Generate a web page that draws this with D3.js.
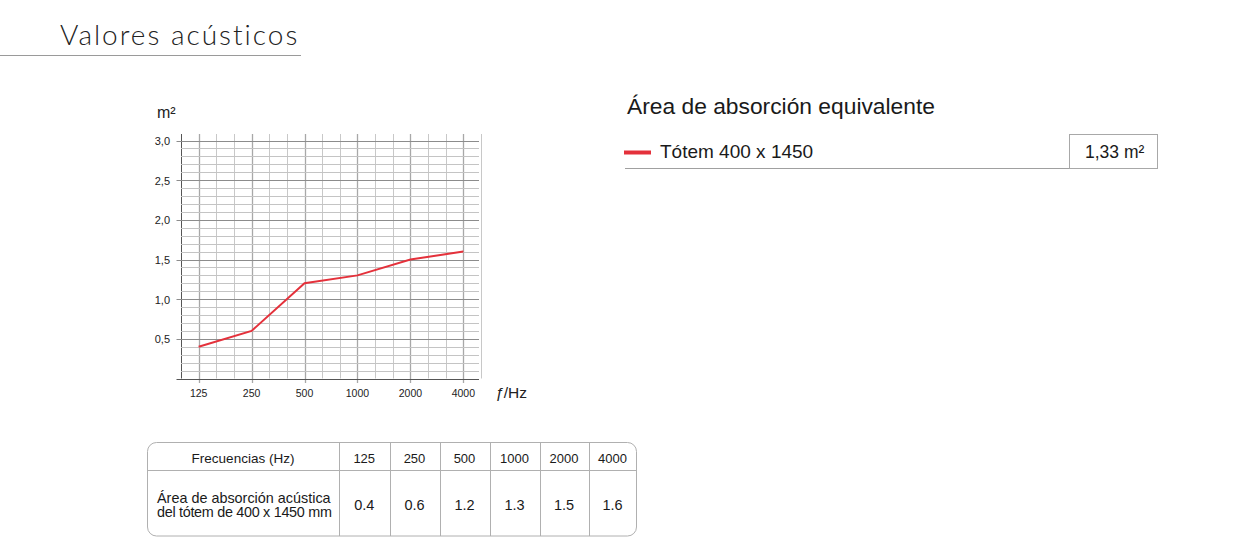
<!DOCTYPE html>
<html><head><meta charset="utf-8">
<script src="https://cdn.jsdelivr.net/npm/d3@7"></script>
<style>
html,body{margin:0;padding:0;background:#fff;}
svg{display:block;}
text{font-family:"Liberation Sans",Arial,Helvetica,sans-serif;fill:#1a1a1a;}
</style></head>
<body>
<svg id="c" width="1240" height="553"></svg>
<script>
// ---- data ----
const frequencies = [125, 250, 500, 1000, 2000, 4000];
const freqLabels = ["125", "250", "500", "1000", "2000", "4000"];
const absorption = [0.4, 0.6, 1.2, 1.3, 1.5, 1.6];
const absorptionLabels = ["0.4", "0.6", "1.2", "1.3", "1.5", "1.6"];
const yTicks = [0.5, 1.0, 1.5, 2.0, 2.5, 3.0];
const yTickLabels = ["0,5", "1,0", "1,5", "2,0", "2,5", "3,0"];
const seriesName = "Tótem 400 x 1450";
const equivalentArea = "1,33 m²";
const pageTitle = "Valores acústicos";
const panelTitle = "Área de absorción equivalente";
const tableHeader = "Frecuencias (Hz)";
const tableRowLabel = ["Área de absorción acústica", "del tótem de 400 x 1450 mm"];

const svg = d3.select("#c");
const red = "#e4313b";

// ---- page title ----
svg.append("text").attr("x", 60).attr("y", 45)
  .style("font-family", "Lato, 'Open Sans', sans-serif").style("font-weight", 300)
  .style("font-size", "28px").style("letter-spacing", "2px").style("fill", "#222").text(pageTitle);
svg.append("line").attr("x1", 0).attr("x2", 301).attr("y1", 55.5).attr("y2", 55.5)
  .attr("stroke", "#9a9a9a").attr("stroke-width", 1);

// ---- chart scales ----
const third = Math.pow(2, 1/3);
const x = d3.scaleLog().base(2).domain([125 / third, 4000 * third]).range([181, 481]);
const y = d3.scaleLinear().domain([0, 3]).range([378.5, 140.5]);
const gridTop = 134;

const g = svg.append("g");
// vertical third-octave grid lines
const bandLines = d3.range(0, 18).map(k => 125 / third * Math.pow(third, k));
bandLines.forEach((f, i) => {
  const isOct = (i % 3) === 1;
  const isEdge = i === 0;
  g.append("line")
    .attr("x1", Math.round(x(f)) + 0.5).attr("x2", Math.round(x(f)) + 0.5)
    .attr("y1", gridTop).attr("y2", isOct ? 383 : y(0))
    .attr("stroke", isEdge ? "#555" : (isOct ? "#a8a8a8" : "#c8c8c8"))
    .attr("stroke-width", isOct ? 1.3 : 1);
});
// horizontal grid lines every 0.1
d3.range(1, 31).map(k => k / 10).forEach(v => {
  const major = Math.abs(v * 2 - Math.round(v * 2)) < 1e-6;
  g.append("line")
    .attr("x1", major ? 176.5 : 181).attr("x2", 479)
    .attr("y1", Math.round(y(v)) + 0.5).attr("y2", Math.round(y(v)) + 0.5)
    .attr("stroke", major ? "#8c8c8c" : "#c4c4c4").attr("stroke-width", 1);
});
// x axis line
g.append("line").attr("x1", 176.5).attr("x2", 479)
  .attr("y1", Math.round(y(0)) + 0.5).attr("y2", Math.round(y(0)) + 0.5)
  .attr("stroke", "#555").attr("stroke-width", 1);

// y tick labels
g.selectAll(".yl").data(yTicks).enter().append("text")
  .attr("x", 170).attr("y", d => y(d) + 4.5)
  .attr("text-anchor", "end").style("font-size", "11px").style("fill", "#222")
  .text((d, i) => yTickLabels[i]);
// x tick labels
g.selectAll(".xl").data(frequencies).enter().append("text")
  .attr("x", d => x(d)).attr("y", 396.5)
  .attr("text-anchor", "middle").style("font-size", "10.5px").style("fill", "#222")
  .text((d, i) => freqLabels[i]);
// axis units
const un = g.append("text").attr("x", 495).attr("y", 398).style("font-size", "15.5px").style("fill", "#222");
un.append("tspan").style("font-style", "italic").text("ƒ");
un.append("tspan").text("/Hz");
const mu = g.append("text").attr("x", 157).attr("y", 117.5).style("font-size", "16px").style("fill", "#222");
mu.text("m²");

// data line
const line = d3.line().x(d => x(d[0])).y(d => y(d[1]));
g.append("path").datum(frequencies.map((f, i) => [f, absorption[i]]))
  .attr("d", line).attr("fill", "none").attr("stroke", red).attr("stroke-width", 2);

// ---- right panel ----
svg.append("text").attr("x", 627).attr("y", 114).style("font-size", "22.8px").style("fill", "#1a1a1a").text(panelTitle);
svg.append("line").attr("x1", 624).attr("x2", 651).attr("y1", 152.5).attr("y2", 152.5)
  .attr("stroke", red).attr("stroke-width", 4);
svg.append("text").attr("x", 660).attr("y", 157.5).style("font-size", "19px").style("fill", "#1a1a1a").text(seriesName);
svg.append("line").attr("x1", 625).attr("x2", 1069).attr("y1", 168.5).attr("y2", 168.5)
  .attr("stroke", "#a0a0a0").attr("stroke-width", 1.2);
svg.append("rect").attr("x", 1069.5).attr("y", 134.5).attr("width", 88).attr("height", 34)
  .attr("fill", "none").attr("stroke", "#a8a8a8").attr("stroke-width", 1);
svg.append("text").attr("x", 1085).attr("y", 158).style("font-size", "17.5px").style("fill", "#1a1a1a").text(equivalentArea);

// ---- table ----
const colEdges = [339, 389.5, 439.5, 489.5, 539.5, 588.5, 636.5];
const tb = svg.append("g");
tb.append("rect").attr("x", 147.5).attr("y", 442.5).attr("width", 489).attr("height", 93.5)
  .attr("rx", 9).attr("fill", "none").attr("stroke", "#b0b0b0").attr("stroke-width", 1);
tb.append("line").attr("x1", 147.5).attr("x2", 636.5).attr("y1", 470.5).attr("y2", 470.5)
  .attr("stroke", "#b0b0b0");
colEdges.slice(0, 6).forEach(cx => {
  tb.append("line").attr("x1", Math.round(cx) + 0.5).attr("x2", Math.round(cx) + 0.5)
    .attr("y1", 442.5).attr("y2", 536).attr("stroke", "#b0b0b0");
});
tb.append("text").attr("x", 243).attr("y", 463).attr("text-anchor", "middle")
  .style("font-size", "13.5px").text(tableHeader);
freqLabels.forEach((t, i) => {
  tb.append("text").attr("x", (colEdges[i] + colEdges[i + 1]) / 2).attr("y", 463)
    .attr("text-anchor", "middle").style("font-size", "13px").text(t);
  tb.append("text").attr("x", (colEdges[i] + colEdges[i + 1]) / 2).attr("y", 509.5)
    .attr("text-anchor", "middle").style("font-size", "14.5px").text(absorptionLabels[i]);
});
tableRowLabel.forEach((t, i) => {
  tb.append("text").attr("x", 157).attr("y", 502.5 + i * 14.5)
    .style("font-size", "14.4px").style("letter-spacing", i === 1 ? "-0.3px" : "0px").text(t);
});
</script>
</body></html>
